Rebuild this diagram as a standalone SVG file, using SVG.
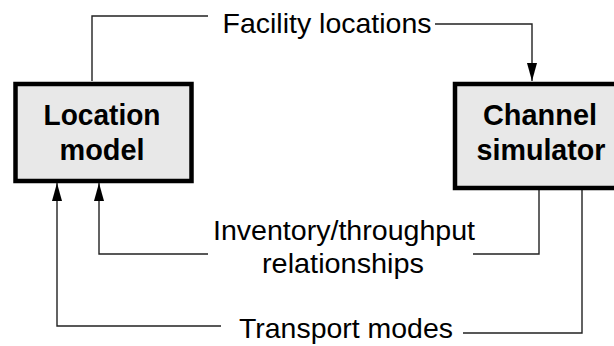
<svg xmlns="http://www.w3.org/2000/svg" width="614" height="346" viewBox="0 0 614 346">
<defs>
<style>
.box{fill:#e8e8e8;stroke:#000;stroke-width:4.5}
.bt{font-family:"Liberation Sans",Arial,sans-serif;font-weight:bold;font-size:30px;text-anchor:middle;fill:#000}
.lt{font-family:"Liberation Sans",Arial,sans-serif;font-size:27.5px;text-anchor:middle;fill:#000}
.ln{fill:none;stroke:#222;stroke-width:1.4}
</style>
<marker id="ah2" viewBox="0 0 18 10" refX="18" refY="5" markerWidth="18" markerHeight="10" markerUnits="userSpaceOnUse" orient="auto">
<path d="M0,0 L18,5 L0,10 Z" fill="#000"/>
</marker>
</defs>
<rect width="614" height="346" fill="#fff"/>
<g id="connectors">
<polyline class="ln" points="208,16 92,16 92,81"/>
<polyline class="ln" points="435,24 532,24 532,81" marker-end="url(#ah2)"/>
<polyline class="ln" points="539,190 539,254 473,254"/>
<polyline class="ln" points="208,254 99,254 99,183" marker-end="url(#ah2)"/>
<polyline class="ln" points="582,190 582,333 463,333"/>
<polyline class="ln" points="221,326 57,326 57,183" marker-end="url(#ah2)"/>
</g>
<g id="location-model">
<rect class="box" x="15.5" y="84" width="176" height="97"/>
<text class="bt" x="102" y="125" textLength="117" lengthAdjust="spacingAndGlyphs">Location</text>
<text class="bt" x="102" y="160" textLength="85" lengthAdjust="spacingAndGlyphs">model</text>
</g>
<g id="channel-simulator">
<rect class="box" x="455" y="84" width="180" height="104"/>
<text class="bt" x="540" y="125" textLength="114" lengthAdjust="spacingAndGlyphs">Channel</text>
<text class="bt" x="541" y="160" textLength="129" lengthAdjust="spacingAndGlyphs">simulator</text>
</g>
<g id="labels">
<text class="lt" x="327" y="33" textLength="209" lengthAdjust="spacingAndGlyphs">Facility locations</text>
<text class="lt" x="344" y="240" textLength="262" lengthAdjust="spacingAndGlyphs">Inventory/throughput</text>
<text class="lt" x="343" y="273" textLength="162" lengthAdjust="spacingAndGlyphs">relationships</text>
<text class="lt" x="346" y="338" textLength="214" lengthAdjust="spacingAndGlyphs">Transport modes</text>
</g>
</svg>
